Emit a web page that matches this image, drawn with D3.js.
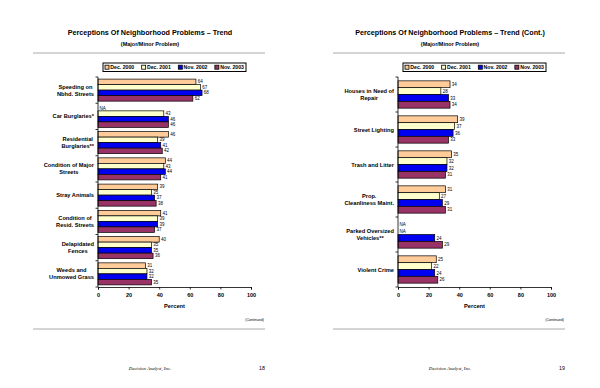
<!DOCTYPE html>
<meta charset="UTF-8">
<style>
body { margin: 0; background: #fff; }
svg text { font-family: "Liberation Sans", Arial, sans-serif; }
.bold { font-weight: bold; }
</style>
<body>
<script src="https://d3js.org/d3.v7.min.js"></script>
<script>

var series = ["Dec. 2000", "Dec. 2001", "Nov. 2002", "Nov. 2003"];
var colors = ["#FFCC99", "#FFFFCC", "#0000F0", "#993366"];
var xTicks = [0, 20, 40, 60, 80, 100];

// page 18
var leftCategories = [
  ["Speeding on", "Nbhd. Streets"],
  ["Car Burglaries*"],
  ["Residential", "Burglaries**"],
  ["Condition of Major", "Streets"],
  ["Stray Animals"],
  ["Condition of", "Resid. Streets"],
  ["Delapidated", "Fences"],
  ["Weeds and", "Unmowed Grass"]
];
var leftDec2000 = [64, null, 46, 44, 39, 41, 40, 31];
var leftDec2001 = [67, 43, 39, 43, 35, 39, 35, 32];
var leftNov2002 = [68, 46, 41, 44, 37, 39, 35, 32];
var leftNov2003 = [62, 46, 42, 41, 38, 37, 36, 35];

// page 19
var rightCategories = [
  ["Houses in Need of", "Repair"],
  ["Street Lighting"],
  ["Trash and Litter"],
  ["Prop.", "Cleanliness Maint."],
  ["Parked Oversized", "Vehicles**"],
  ["Violent Crime"]
];
var rightDec2000 = [34, 39, 35, 31, null, 25];
var rightDec2001 = [28, 37, 32, 27, null, 22];
var rightNov2002 = [33, 36, 32, 29, 24, 24];
var rightNov2003 = [34, 33, 31, 31, 29, 26];

var svg = d3.select("body").append("svg")
    .attr("width", 600)
    .attr("height", 388);

drawPage(0, "Perceptions Of Neighborhood Problems \u2013 Trend", leftCategories,
  [leftDec2000, leftDec2001, leftNov2002, leftNov2003], "18", 0.16);
drawPage(300, "Perceptions Of Neighborhood Problems \u2013 Trend (Cont.)", rightCategories,
  [rightDec2000, rightDec2001, rightNov2002, rightNov2003], "19", 0.22);

function drawPage(offset, title, cats, vals, pageNo, pad) {
  var g = svg.append("g").attr("transform", "translate(" + offset + ",0)");

  g.append("text").attr("class", "bold")
      .attr("x", 150).attr("y", 35)
      .attr("text-anchor", "middle")
      .style("font-size", "7.2px")
      .text(title);
  g.append("text").attr("class", "bold")
      .attr("x", 150).attr("y", 45.5)
      .attr("text-anchor", "middle")
      .style("font-size", "5.5px")
      .text("(Major/Minor Problem)");
  g.append("line")
      .attr("x1", 33).attr("x2", 265).attr("y1", 53).attr("y2", 53)
      .attr("stroke", "#aaa").attr("stroke-width", 1);

  // legend
  var boxX = 103, boxW = 143;
  g.append("rect")
      .attr("x", boxX).attr("y", 63)
      .attr("width", boxW).attr("height", 8.5)
      .attr("fill", "#fff").attr("stroke", "#000").attr("stroke-width", 1);
  var its = series.map(function(s, i) {
    var it = g.append("g");
    it.append("rect")
        .attr("x", 0).attr("y", 65.2).attr("width", 4).attr("height", 4)
        .attr("fill", colors[i]).attr("stroke", "#000").attr("stroke-width", 0.8);
    var t = it.append("text").attr("class", "bold")
        .attr("x", 5.3).attr("y", 69.3)
        .style("font-size", "5.2px")
        .text(s);
    return {g: it, w: 5.3 + t.node().getComputedTextLength()};
  });
  var used = d3.sum(its, function(d) { return d.w; });
  var gap = (boxW - 4 - used) / (its.length - 1);
  var lx = boxX + 2;
  its.forEach(function(d) {
    d.g.attr("transform", "translate(" + lx + ",0)");
    lx += d.w + gap;
  });

  var x = d3.scaleLinear().domain([0, 100]).range([98, 251]);
  var y = d3.scaleBand().domain(d3.range(cats.length)).range([77, 287])
      .paddingInner(pad).paddingOuter(pad / 2);
  var ySub = d3.scaleBand().domain(d3.range(series.length)).range([0, y.bandwidth()]);

  // bars
  vals.forEach(function(arr, si) {
    var rows = arr.map(function(v, ci) { return {v: v, ci: ci}; });
    g.selectAll(".bar" + si)
        .data(rows.filter(function(d) { return d.v !== null; }))
        .enter().append("rect")
        .attr("x", x(0))
        .attr("y", function(d) { return y(d.ci) + ySub(si); })
        .attr("width", function(d) { return x(d.v) - x(0); })
        .attr("height", ySub.bandwidth())
        .attr("fill", colors[si])
        .attr("stroke", "#000")
        .attr("stroke-width", 0.7);
    g.selectAll(".lbl" + si)
        .data(rows)
        .enter().append("text")
        .attr("x", function(d) { return d.v === null ? x(0) + 1.5 : x(d.v) + 1.8; })
        .attr("y", function(d) { return y(d.ci) + ySub(si) + ySub.bandwidth() / 2 + 1.6; })
        .style("font-size", "4.5px")
        .text(function(d) { return d.v === null ? "NA" : d.v; });
  });

  // y axis
  g.append("line")
      .attr("x1", x(0)).attr("x2", x(0)).attr("y1", 77).attr("y2", 287)
      .attr("stroke", "#000").attr("stroke-width", 0.8);
  var bounds = d3.range(cats.length + 1).map(function(i) { return 77 + i * y.step(); });
  g.selectAll(".ytick").data(bounds).enter().append("line")
      .attr("x1", x(0) - 2.5).attr("x2", x(0))
      .attr("y1", function(d) { return d; }).attr("y2", function(d) { return d; })
      .attr("stroke", "#000").attr("stroke-width", 0.8);
  cats.forEach(function(lines, ci) {
    var cy = y(ci) + y.bandwidth() / 2;
    var t = g.append("text").attr("class", "bold")
        .attr("text-anchor", "middle")
        .style("font-size", "5.7px");
    var spans = lines.map(function(l, li) {
      return t.append("tspan")
          .attr("y", cy + 2 + (li - (lines.length - 1) / 2) * 6.8)
          .text(l);
    });
    var maxW = d3.max(spans, function(s) { return s.node().getComputedTextLength(); });
    spans.forEach(function(s) { s.attr("x", 94 - maxW / 2); });
  });

  // x axis
  var xa = g.append("g")
      .attr("transform", "translate(0,287)")
      .call(d3.axisBottom(x).tickValues(xTicks).tickSize(2.5).tickPadding(3.5));
  xa.select(".domain").attr("stroke-width", 0.8);
  xa.selectAll(".tick line").attr("stroke-width", 0.8);
  xa.selectAll("text")
      .attr("class", "bold")
      .style("font-size", "5.5px")
      .style("font-family", "'Liberation Sans', Arial, sans-serif");

  g.append("text").attr("class", "bold")
      .attr("x", (x(0) + x(100)) / 2).attr("y", 308)
      .attr("text-anchor", "middle")
      .style("font-size", "5.7px")
      .text("Percent");
  g.append("text")
      .attr("x", 264).attr("y", 320.5)
      .attr("text-anchor", "end")
      .style("font-size", "3.6px")
      .text("(Continued)");
  g.append("line")
      .attr("x1", 33).attr("x2", 265).attr("y1", 329).attr("y2", 329)
      .attr("stroke", "#aaa").attr("stroke-width", 1);

  g.append("text")
      .attr("x", 150).attr("y", 369.5)
      .attr("text-anchor", "middle")
      .style("font-family", "'Liberation Serif', serif")
      .style("font-style", "italic")
      .style("font-size", "4.8px")
      .text("Decision Analyst, Inc.");
  g.append("text")
      .attr("x", 262).attr("y", 369.5)
      .attr("text-anchor", "middle")
      .style("font-size", "5.3px")
      .text(pageNo);
}

</script>
</body>
